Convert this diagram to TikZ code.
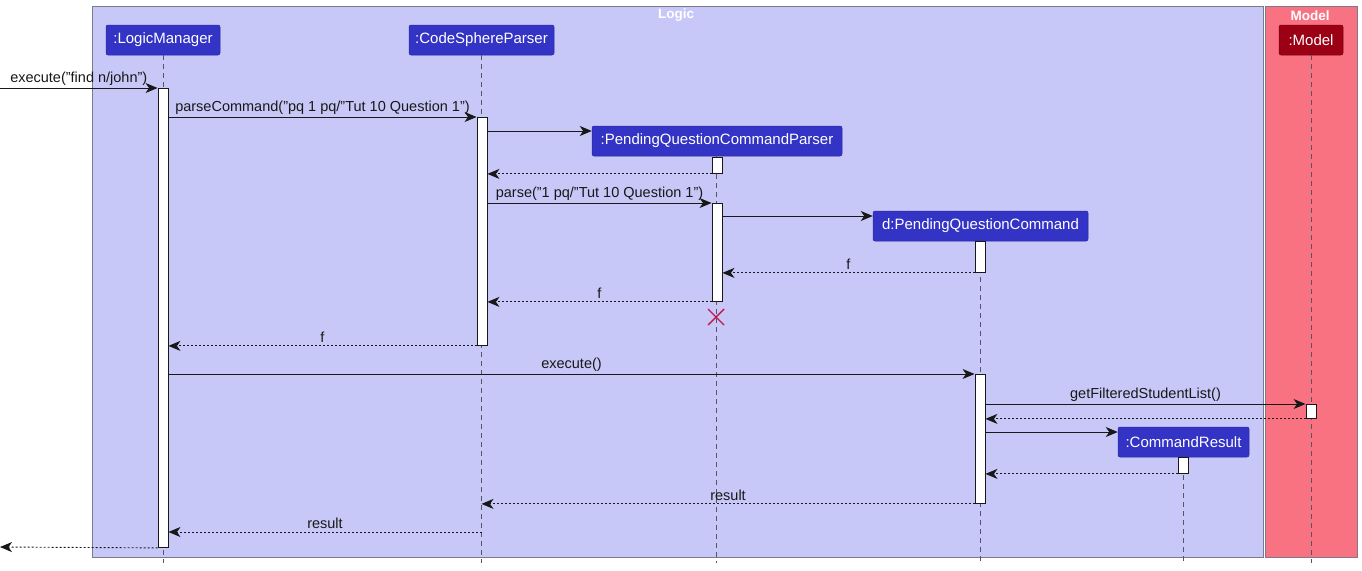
\documentclass[tikz,border=0pt]{standalone}
\usepackage{fontspec}
\setmainfont{Liberation Sans}
\usetikzlibrary{arrows.meta}
\definecolor{logicbg}{HTML}{C8C8F8}
\definecolor{modelbg}{HTML}{F97282}
\definecolor{partblue}{HTML}{3333C6}
\definecolor{partred}{HTML}{9B0014}
\definecolor{framegrey}{HTML}{7A7A8A}
\definecolor{lifegrey}{HTML}{555566}
\definecolor{destroyred}{HTML}{C2174A}
\definecolor{ink}{HTML}{181818}
\tikzset{
  frame/.style={draw=framegrey, line width=0.9pt, inner sep=0pt, anchor=north west},
  ftitle/.style={font=\fontsize{13.5}{15}\selectfont\bfseries, text=white, inner sep=0pt},
  part/.style={draw=partblue!80!black, fill=partblue, rounded corners=2pt, text=white,
    font=\fontsize{15}{17}\selectfont, minimum height=30pt, inner xsep=0pt, line width=0.5pt},
  life/.style={draw=lifegrey, line width=0.7pt, dash pattern=on 5pt off 4pt},
  act/.style={draw=ink, fill=white, line width=0.9pt, minimum width=10pt, inner sep=0pt, anchor=north},
  msg/.style={draw=ink, line width=0.9pt, -{Stealth[length=12pt,width=10pt,inset=3.5pt]}},
  ret/.style={msg, dash pattern=on 2pt off 2pt},
  lbl/.style={font=\fontsize{14.5}{17}\selectfont, text=ink, inner sep=2.5pt, above},
  destroy/.style={draw=destroyred, line width=1.4pt},
}
\begin{document}
\begin{tikzpicture}[x=1pt,y=-1pt]
\useasboundingbox (0,0) rectangle (1362,570);
% frames
\node[frame, fill=logicbg, minimum width=1171pt, minimum height=551pt] (logic) at (92,6) {};
\node[frame, fill=modelbg, minimum width=92pt, minimum height=551pt] (model) at (1265,6) {};
\node[ftitle] (logicT) at (676,15.5) {Logic};
\node[ftitle] (modelT) at (1310,15.5) {Model};
% participants
\node[part, minimum width=114pt] (LM) at (163,40) {:LogicManager};
\node[part, minimum width=145pt] (CSP) at (481.5,40) {:CodeSphereParser};
\node[part, minimum width=250pt] (PQCP) at (717,141) {:PendingQuestionCommandParser};
\node[part, minimum width=215pt] (PQC) at (980.5,226) {d:PendingQuestionCommand};
\node[part, minimum width=131pt] (CR) at (1183.5,442) {:CommandResult};
\node[part, draw=partred!80!black, fill=partred, minimum width=64pt] (M) at (1311,40) {:Model};
% lifelines
\coordinate (LMe) at (163,563);
\coordinate (CSPe) at (481.5,563);
\coordinate (PQCPe) at (716.5,563);
\coordinate (PQCe) at (980,563);
\coordinate (CRe) at (1183,563);
\coordinate (Me) at (1311,563);
\draw[life] (LM.south) -- (LMe);
\draw[life] (CSP.south) -- (CSPe);
\draw[life] (PQCP.south -| PQCPe) -- (PQCPe);
\draw[life] (PQC.south -| PQCe) -- (PQCe);
\draw[life] (CR.south -| CRe) -- (CRe);
\draw[life] (M.south) -- (Me);
% activations
\node[act, minimum height=459pt] (aLM) at (163,88) {};
\node[act, minimum height=228pt] (aCSP) at (482,117) {};
\node[act, minimum height=16pt] (aPQCP1) at (717,157) {};
\node[act, minimum height=98pt] (aPQCP2) at (717,203) {};
\node[act, minimum height=31pt] (aPQC1) at (980,241) {};
\node[act, minimum height=129pt] (aPQC2) at (980,374) {};
\node[act, minimum height=14pt] (aM) at (1311,404) {};
\node[act, minimum height=16pt] (aCR) at (1183,457) {};
% messages
\coordinate (in) at (0,88);
\coordinate (out) at (0,547);
\draw[msg] (in) -- node[lbl] {execute("find n/john")} (aLM.north west);
\draw[msg] (aLM.east |- 0,117) -- node[lbl] {parseCommand("pq 1 pq/"Tut 10 Question 1")} (aCSP.north west);
\draw[msg] (aCSP.east |- 0,131) -- (PQCP.west |- 0,131);
\draw[ret] (aPQCP1.south west) -- (aCSP.east |- aPQCP1.south);
\draw[msg] (aCSP.east |- 0,203) -- node[lbl] {parse("1 pq/"Tut 10 Question 1")} (aPQCP2.north west);
\draw[msg] (aPQCP2.east |- 0,216) -- (PQC.west |- 0,216);
\draw[ret] (aPQC1.south west) -- node[lbl] {f} (aPQCP2.east |- aPQC1.south);
\draw[ret] (aPQCP2.south west) -- node[lbl] {f} (aCSP.east |- aPQCP2.south);
\draw[destroy] (708,309) -- (724,325) (708,325) -- (724,309);
\draw[ret] (aCSP.south west) -- node[lbl] {f} (aLM.east |- aCSP.south);
\draw[msg] (aLM.east |- 0,374) -- node[lbl] {execute()} (aPQC2.north west);
\draw[msg] (aPQC2.east |- 0,404) -- node[lbl] {getFilteredStudentList()} (aM.north west);
\draw[ret] (aM.south west) -- (aPQC2.east |- aM.south);
\draw[msg] (aPQC2.east |- 0,432) -- (CR.west |- 0,432);
\draw[ret] (aCR.south west) -- (aPQC2.east |- aCR.south);
\draw[ret] (aPQC2.south west) -- node[lbl] {result} (CSP.south |- aPQC2.south);
\draw[ret] (CSP.south |- 0,532) -- node[lbl] {result} (aLM.east |- 0,532);
\draw[ret] (aLM.south west) -- (out);
\end{tikzpicture}
\end{document}
